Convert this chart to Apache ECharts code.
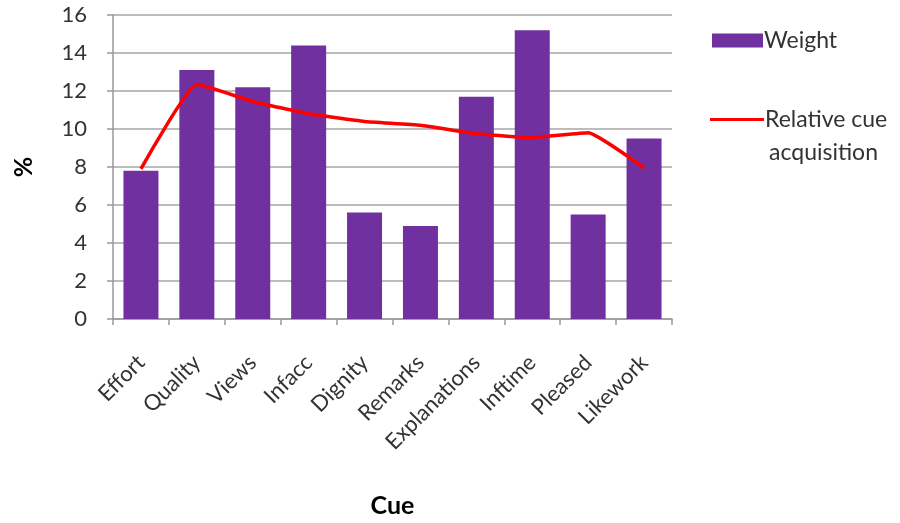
<!DOCTYPE html>
<html><head><meta charset="utf-8">
<script src="https://cdn.jsdelivr.net/npm/echarts@6/dist/echarts.min.js"></script>
<style>html,body{margin:0;padding:0;background:#fff}#c{width:900px;height:523px}</style>
</head><body><div id="c"></div>
<script>
const categories = ['Effort','Quality','Views','Infacc','Dignity','Remarks','Explanations','Inftime','Pleased','Likework'];
const weight = [7.8, 13.1, 12.2, 14.4, 5.6, 4.9, 11.7, 15.2, 5.5, 9.5];
const relativeCue = [7.9, 12.35, 11.45, 10.8, 10.4, 10.2, 9.75, 9.55, 9.8, 7.95];
const yTicks = {min: 0, max: 16, interval: 2};
const seriesNames = ['Weight', 'Relative cue acquisition'];

const font = 'Lato, "Open Sans", sans-serif';
const chart = echarts.init(document.getElementById('c'));
chart.setOption({
  animation: false,
  textStyle: {fontFamily: font},
  grid: {left: 113, right: 228, top: 15, bottom: 200, containLabel: false},
  legend: [{
    data: [seriesNames[0]], left: 707, top: 24, orient: 'vertical',
    itemWidth: 51, itemHeight: 14, icon: 'rect',
    textStyle: {fontFamily: font, fontSize: 23, color: '#333', padding: [0,0,0,-4]}
  }, {
    data: [seriesNames[1]], left: 705, top: 103, orient: 'vertical',
    itemWidth: 54, itemHeight: 3, icon: 'rect',
    formatter: () => 'Relative cue',
    textStyle: {fontFamily: font, fontSize: 23, color: '#333', padding: [0,0,0,-4]}
  }],
  graphic: [{
    type: 'text', left: 769, top: 141,
    style: {text: 'acquisition', font: '23px ' + font, fill: '#333'}
  }],
  xAxis: {
    type: 'category', data: categories,
    name: 'Cue', nameLocation: 'middle', nameGap: 174,
    nameTextStyle: {fontFamily: font, fontSize: 25, fontWeight: 'bold', color: '#000'},
    axisLine: {lineStyle: {color: '#999', width: 1.5}},
    axisTick: {show: true, length: 6, lineStyle: {color: '#999', width: 1.5}},
    axisLabel: {rotate: 45, fontFamily: font, fontSize: 22, color: '#333', margin: 40, interval: 0}
  },
  yAxis: {
    type: 'value', min: yTicks.min, max: yTicks.max, interval: yTicks.interval,
    name: '%', nameLocation: 'middle', nameGap: 77, nameRotate: 90,
    nameTextStyle: {fontFamily: font, fontSize: 25, fontWeight: 'bold', color: '#000'},
    axisLine: {show: true, lineStyle: {color: '#999', width: 1.5}},
    axisTick: {show: true, length: 6, lineStyle: {color: '#999', width: 1.5}},
    axisLabel: {fontFamily: font, fontSize: 22, color: '#333', margin: 26},
    splitLine: {lineStyle: {color: '#a6a6a6', width: 1.5}}
  },
  series: [{
    name: seriesNames[0], type: 'bar', data: weight, barWidth: 35,
    itemStyle: {color: '#7030A0'}
  }, {
    name: seriesNames[1], type: 'line', data: relativeCue,
    smooth: 0.12, symbol: 'none', showSymbol: false,
    itemStyle: {color: '#FF0000'},
    lineStyle: {color: '#FF0000', width: 3.5}
  }]
});
</script></body></html>
